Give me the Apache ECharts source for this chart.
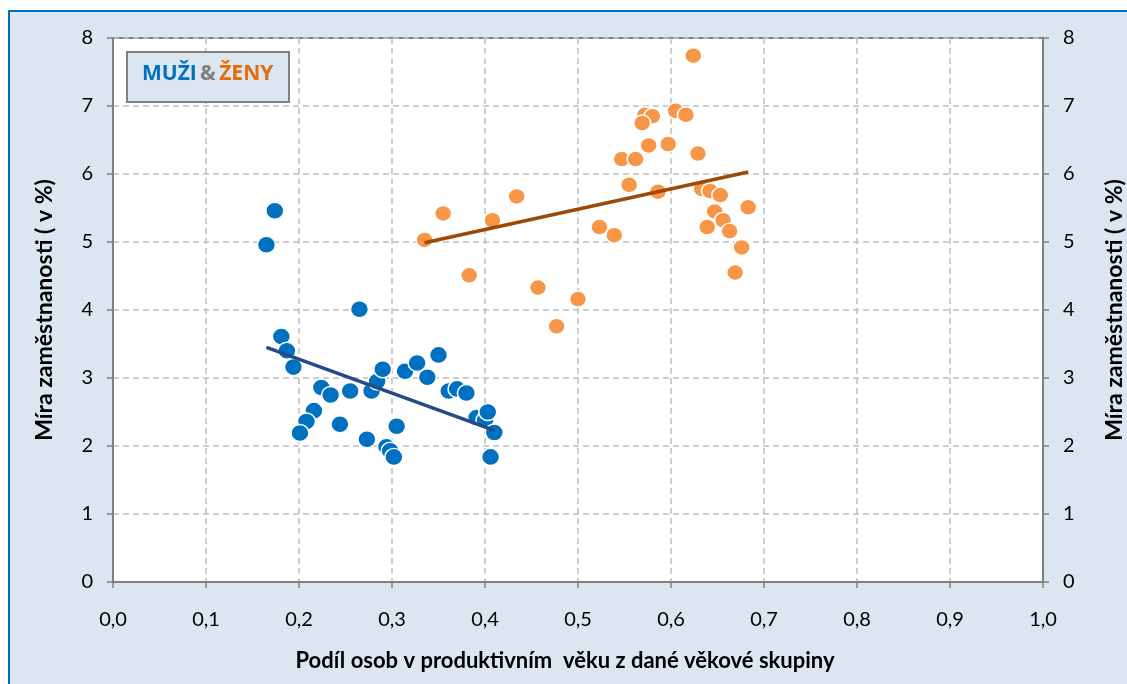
<!DOCTYPE html>
<html>
<head>
<meta charset="utf-8">
<script src="https://cdn.jsdelivr.net/npm/echarts@6/dist/echarts.min.js"></script>
<style>
  html, body { margin: 0; padding: 0; background: #fff; }
  #chart { width: 1127px; height: 684px; }
</style>
</head>
<body>
<div id="chart"></div>
<script>
// muži: [podíl, míra]
var muzi = [
  [0.174, 5.46], [0.165, 4.96], [0.265, 4.01], [0.181, 3.61], [0.187, 3.40],
  [0.194, 3.16], [0.224, 2.86], [0.234, 2.75], [0.255, 2.81], [0.278, 2.81],
  [0.284, 2.95], [0.290, 3.13], [0.314, 3.10], [0.327, 3.22], [0.338, 3.01],
  [0.350, 3.34], [0.361, 2.81], [0.370, 2.84], [0.380, 2.78], [0.391, 2.42],
  [0.400, 2.38], [0.403, 2.50], [0.410, 2.20], [0.406, 1.84], [0.216, 2.52],
  [0.208, 2.36], [0.201, 2.19], [0.244, 2.32], [0.273, 2.10], [0.305, 2.29],
  [0.294, 1.99], [0.298, 1.93], [0.302, 1.84]
];
// ženy
var zeny = [
  [0.624, 7.74], [0.572, 6.87], [0.580, 6.85], [0.569, 6.75], [0.605, 6.93],
  [0.616, 6.87], [0.576, 6.42], [0.597, 6.44], [0.629, 6.30], [0.547, 6.22],
  [0.562, 6.22], [0.555, 5.84], [0.586, 5.74], [0.633, 5.78], [0.642, 5.75],
  [0.653, 5.69], [0.647, 5.45], [0.656, 5.32], [0.663, 5.16], [0.639, 5.22],
  [0.683, 5.51], [0.676, 4.92], [0.669, 4.55], [0.523, 5.22], [0.539, 5.10],
  [0.500, 4.16], [0.477, 3.76], [0.457, 4.33], [0.434, 5.67], [0.408, 5.32],
  [0.355, 5.42], [0.335, 5.03], [0.383, 4.51]
];
// lineární trendy (koncové body)
var trendMuzi = [[0.165, 3.45], [0.410, 2.23]];
var trendZeny = [[0.335, 4.99], [0.683, 6.03]];

var xName = 'Podíl osob v produktivním  věku z dané věkové skupiny';
var yName = 'Míra zaměstnanosti ( v %)';

var font = 'Lato, "Open Sans", sans-serif';
var legendFont = '"Open Sans", sans-serif';
var myChart = echarts.init(document.getElementById('chart'));

var yAxisBase = {
  type: 'value',
  min: 0,
  max: 8,
  interval: 1,
  name: yName,
  nameLocation: 'middle',
  nameRotate: 90,
  nameTextStyle: { color: '#000', fontFamily: font, fontWeight: 'bold', fontSize: 23 },
  axisLine: { show: true, lineStyle: { color: '#808080', width: 2 } },
  axisTick: { show: true, length: 6, lineStyle: { color: '#808080', width: 1.5 } },
  axisLabel: { color: '#000', fontFamily: font, fontSize: 20, margin: 20 }
};

var option = {
  backgroundColor: '#fff',
  animation: false,
  grid: {
    left: 113, right: 84, top: 38, bottom: 102,
    outerBoundsMode: 'none',
    show: true, backgroundColor: '#fff', borderColor: '#808080', borderWidth: 2
  },
  xAxis: {
    type: 'value',
    min: 0,
    max: 1,
    interval: 0.1,
    name: xName,
    nameLocation: 'middle',
    nameGap: 68,
    nameTextStyle: {
      color: '#000', fontFamily: font, fontWeight: 'bold', fontSize: 22,
      padding: [0, 26, 0, 0]
    },
    axisLine: { show: true, onZero: false, lineStyle: { color: '#808080', width: 2 } },
    axisTick: { show: true, length: 6, lineStyle: { color: '#808080', width: 1.5 } },
    axisLabel: {
      color: '#000', fontFamily: font, fontSize: 20, margin: 28,
      formatter: function (v) { return v.toFixed(1).replace('.', ','); }
    },
    splitLine: { show: true, lineStyle: { color: '#bfbfbf', type: [6, 4], width: 1.5 } }
  },
  yAxis: [
    Object.assign({}, yAxisBase, {
      position: 'left', nameGap: 57,
      splitLine: { show: true, lineStyle: { color: '#bfbfbf', type: [6, 4], width: 1.5 } }
    }),
    Object.assign({}, yAxisBase, {
      position: 'right', nameGap: 60,
      splitLine: { show: false }
    })
  ],
  graphic: [
    {
      type: 'rect', left: 8, top: 10, silent: true, z: -10,
      shape: { width: 1200, height: 800 },
      style: { fill: '#dce6f1', stroke: '#0070c0', lineWidth: 2 }
    },
    {
      type: 'rect', left: 126, top: 51, z: 10,
      shape: { width: 162, height: 50 },
      style: { fill: '#dce6f1', stroke: '#808080', lineWidth: 2 }
    },
    {
      type: 'text', left: 142, top: 64, z: 11,
      style: {
        text: '{m|MUŽI} {a|&} {z|ŽENY}',
        rich: {
          m: { fill: '#0070c0', font: 'bold 21px ' + legendFont },
          a: { fill: '#7f7f7f', font: 'bold 21px ' + legendFont },
          z: { fill: '#e46c0a', font: 'bold 21px ' + legendFont }
        }
      }
    }
  ],
  series: [
    {
      name: 'Muži',
      type: 'scatter',
      data: muzi,
      symbol: 'circle',
      symbolSize: [18, 17],
      itemStyle: { color: '#0070c0', borderColor: '#fff', borderWidth: 1.5, opacity: 1 }
    },
    {
      name: 'Ženy',
      type: 'scatter',
      data: zeny,
      symbol: 'circle',
      symbolSize: [17, 16],
      itemStyle: { color: '#f79646', borderColor: '#fff', borderWidth: 1.5, opacity: 1 }
    },
    {
      name: 'Trend muži',
      type: 'line',
      data: trendMuzi,
      showSymbol: false,
      lineStyle: { color: '#254a87', width: 3.5 },
      z: 5
    },
    {
      name: 'Trend ženy',
      type: 'line',
      data: trendZeny,
      showSymbol: false,
      lineStyle: { color: '#9c4a06', width: 3.5 },
      z: 5
    }
  ]
};

myChart.setOption(option);
</script>
</body>
</html>
